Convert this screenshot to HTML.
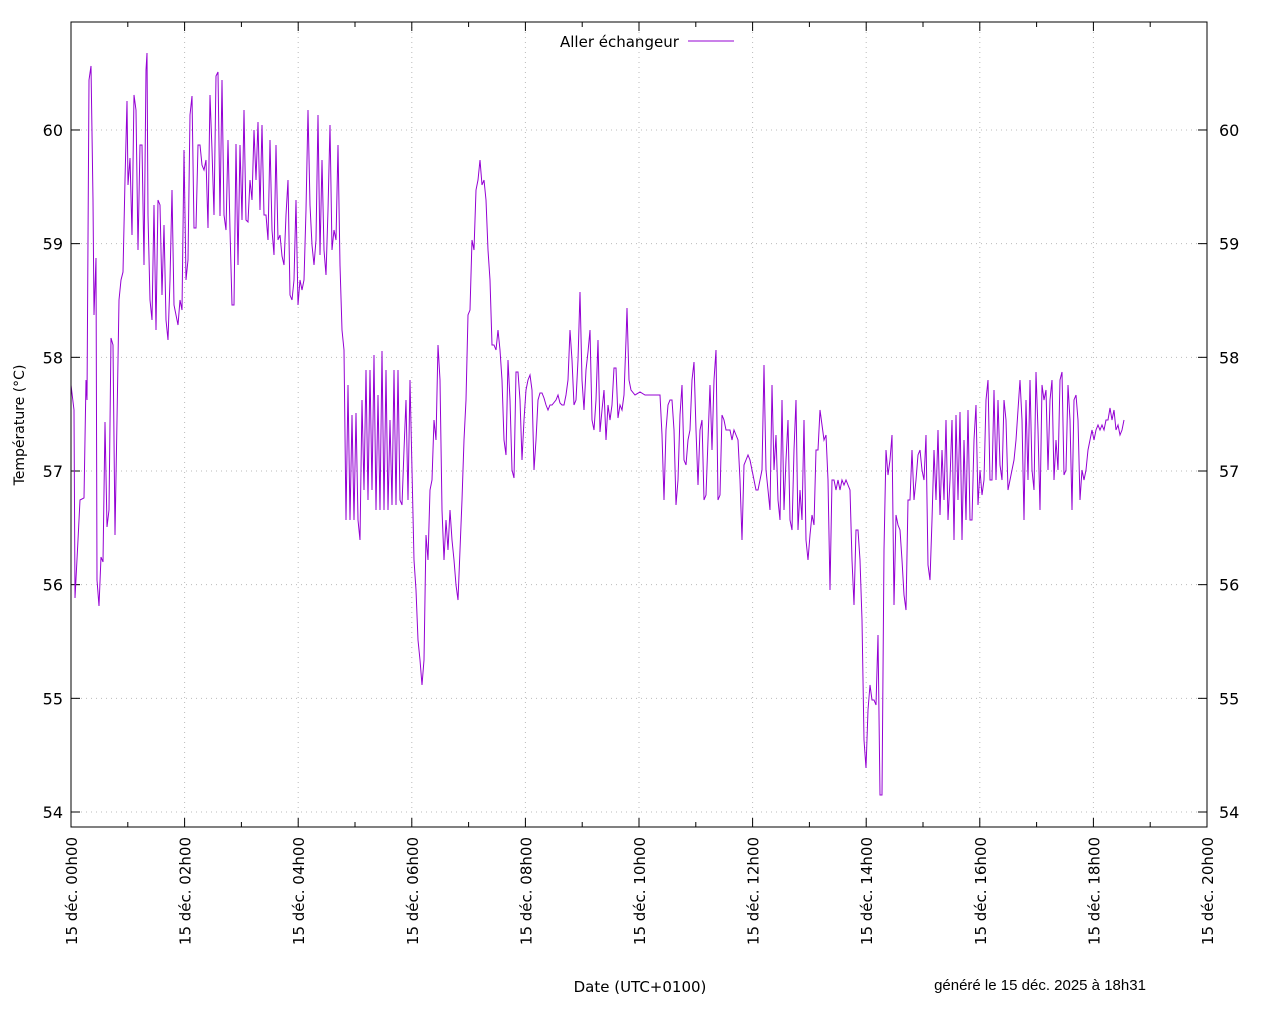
<!DOCTYPE html>
<html><head><meta charset="utf-8"><style>
html,body{margin:0;padding:0;background:#fff;}
svg{display:block;font-family:"DejaVu Sans","Liberation Sans",sans-serif;}
</style></head><body>
<svg id="s" width="1280" height="1024" viewBox="0 0 1280 1024">
<rect width="1280" height="1024" fill="#fff"/>
<g id="grid"></g>
<polyline id="data" fill="none" stroke="#9400d3" stroke-width="1" points="71,385 74,410 75,598 78,540 80,500 84,498 86,380 87,400 89,80 91,66 93,200 94,315 96,258 97,580 99,606 101,557 103,562 105,422 107,527 109,510 111,338 113,345 115,535 117,420 119,300 121,280 123,272 125,180 127,101 128,185 130,158 132,235 134,95 136,110 138,250 140,145 142,145 144,265 146,70 147,53 148,215 150,300 152,320 154,205 156,330 158,200 160,205 162,295 164,225 166,320 168,340 170,280 172,190 174,305 176,315 178,325 180,300 182,310 184,150 186,280 188,260 190,115 192,96 194,228 196,228 198,145 200,145 202,165 204,170 206,160 208,228 210,95 212,150 214,215 216,76 218,72 220,216 222,80 224,215 226,230 228,140 230,230 232,305 234,305 236,144 238,265 240,145 242,220 244,110 246,220 248,222 250,180 252,200 254,130 256,180 258,122 260,210 262,125 264,215 266,215 268,240 270,140 272,230 274,255 276,145 278,240 280,235 282,256 284,265 286,215 288,180 290,295 292,300 294,280 296,200 298,305 300,280 302,290 304,280 306,210 308,110 310,205 312,245 314,265 316,240 318,115 320,255 322,160 324,250 326,275 328,210 330,125 332,250 334,230 336,240 338,145 340,265 342,330 344,350 346,520 348,385 350,520 352,415 354,520 356,413 358,520 360,540 362,400 364,490 366,370 368,500 370,370 372,490 374,355 376,510 378,395 380,510 382,351 384,510 386,370 388,510 390,420 392,505 394,370 396,505 398,370 400,500 402,505 404,450 406,400 408,500 410,380 412,470 414,560 416,590 418,640 420,660 422,685 424,660 426,535 428,560 430,490 432,480 434,420 436,440 438,345 440,380 442,510 444,560 446,520 448,550 450,510 452,540 454,560 456,585 458,600 460,550 462,500 464,440 466,400 468,315 470,310 472,240 474,250 476,190 478,180 480,160 482,185 484,180 486,200 488,250 490,280 492,345 494,345 496,350 498,330 500,350 502,380 504,440 506,455 508,360 510,400 512,470 514,478 516,372 518,372 520,400 522,460 524,420 526,390 528,380 530,375 532,390 534,470 536,440 538,400 540,393 542,393 544,398 546,405 548,410 550,405 552,405 556,400 558,395 560,403 562,405 564,405 566,395 568,380 570,330 572,360 574,405 576,400 578,360 580,292 582,380 584,410 586,370 588,352 590,330 592,420 594,430 596,400 598,340 600,432 602,410 604,390 606,440 608,405 610,420 612,405 614,368 616,368 618,418 620,405 622,410 624,395 626,340 627,308 629,380 631,390 635,395 640,392 645,395 650,395 655,395 660,395 662,435 664,500 666,430 668,405 670,400 672,400 674,430 676,505 678,480 680,415 682,385 684,460 686,465 688,440 690,430 692,380 694,362 696,430 698,485 700,430 702,420 704,500 706,495 708,440 710,385 712,450 714,380 716,350 718,500 720,495 722,415 724,420 726,430 728,430 730,430 732,440 734,430 736,435 738,440 740,480 742,540 744,465 746,460 748,455 750,460 752,470 754,480 756,490 758,490 760,480 762,470 764,365 766,470 768,490 770,510 772,385 774,470 776,435 778,500 780,520 782,400 784,510 786,460 788,420 790,520 792,530 794,450 796,400 798,530 800,490 802,520 804,420 806,540 808,560 810,535 812,515 814,525 816,450 818,450 820,410 822,425 824,440 826,435 828,480 830,590 832,480 834,480 836,490 838,480 840,490 842,480 844,485 846,480 848,485 850,490 852,560 854,605 856,530 858,530 860,560 862,620 864,740 866,768 868,710 870,685 872,700 874,700 876,705 878,635 880,795 882,795 884,550 886,450 888,475 890,460 892,435 894,605 896,515 898,525 900,530 902,560 904,595 906,610 908,500 910,500 912,450 914,500 916,480 918,455 920,450 922,470 924,480 926,435 928,565 930,580 932,520 934,450 936,500 938,430 940,515 942,450 944,500 946,420 948,520 950,480 952,420 954,540 956,415 958,500 960,412 962,540 964,440 966,520 968,410 970,520 972,520 974,440 976,405 978,505 980,470 982,495 984,480 986,400 988,380 990,480 992,480 994,390 996,480 998,400 1000,465 1002,480 1004,400 1006,420 1008,490 1010,480 1012,470 1014,460 1016,440 1018,410 1020,380 1022,420 1024,520 1026,400 1028,480 1030,380 1032,470 1034,490 1036,372 1038,430 1040,510 1042,385 1044,400 1046,390 1048,470 1050,400 1052,380 1054,480 1056,440 1058,470 1060,380 1062,372 1064,475 1066,470 1068,385 1070,420 1072,510 1074,400 1076,395 1078,420 1080,500 1082,470 1084,480 1086,470 1088,450 1090,440 1092,430 1094,440 1096,430 1098,425 1100,430 1102,425 1104,430 1106,420 1108,420 1110,408 1112,420 1114,410 1116,430 1118,425 1120,435 1122,430 1124,420"/>
<rect x="71" y="22" width="1136" height="805" fill="none" stroke="#000" stroke-width="1"/>
<text x="560" y="47" font-size="15">Aller échangeur</text>
<line x1="688" y1="41" x2="734" y2="41" stroke="#9400d3"/>
<text transform="translate(24,425) rotate(-90)" text-anchor="middle" font-size="14">Température (°C)</text>
<text x="640" y="992" text-anchor="middle" font-size="15">Date (UTC+0100)</text>
<text x="1040" y="990" text-anchor="middle" font-size="15" font-family="Liberation Sans, sans-serif">généré le 15 déc. 2025 à 18h31</text>
</svg>
<script>
var g=document.getElementById('grid'),h='';
var L=71,R=1207,T=22,B=827;
for(var v=54;v<=60;v++){var y=812-(v-54)*113.67;
h+='<line x1="'+L+'" x2="'+R+'" y1="'+y+'" y2="'+y+'" stroke="#bbb" stroke-dasharray="1,4"/>';
h+='<line x1="'+L+'" x2="'+(L+9)+'" y1="'+y+'" y2="'+y+'" stroke="#000"/><line x1="'+(R-9)+'" x2="'+R+'" y1="'+y+'" y2="'+y+'" stroke="#000"/>';
h+='<text x="63" y="'+(y+6)+'" text-anchor="end" font-size="16">'+v+'</text><text x="1219" y="'+(y+6)+'" font-size="16">'+v+'</text>';}
for(var k=0;k<=20;k++){var x=L+k*56.8;var maj=k%2==0;var len=maj?9:5;
if(maj&&k>0&&k<20)h+='<line x1="'+x+'" x2="'+x+'" y1="'+T+'" y2="'+B+'" stroke="#bbb" stroke-dasharray="1,4"/>';
h+='<line x1="'+x+'" x2="'+x+'" y1="'+B+'" y2="'+(B-len)+'" stroke="#000"/><line x1="'+x+'" x2="'+x+'" y1="'+T+'" y2="'+(T+len)+'" stroke="#000"/>';
if(maj){var hh=(k<10?'0':'')+k;h+='<text transform="translate('+(x+6)+',837) rotate(-90)" text-anchor="end" font-size="15">15 déc. '+hh+'h00</text>';}}
g.innerHTML=h;
</script>
</body></html>
